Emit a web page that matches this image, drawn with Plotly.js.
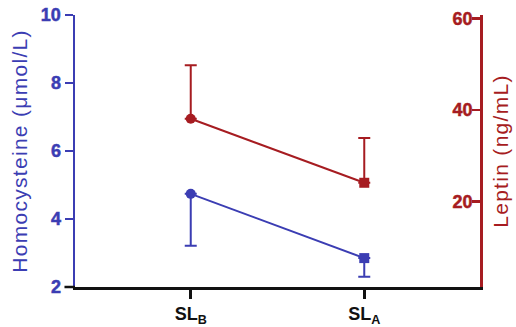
<!DOCTYPE html>
<html>
<head>
<meta charset="utf-8">
<script src="https://cdn.plot.ly/plotly-3.0.1.min.js"></script>
<style>
html, body { margin: 0; padding: 0; background: #fff; }
#chart { width: 516px; height: 327px; }
.ytitle, .y2title { letter-spacing: 1.3px; }
.ytick text, .y2tick text, .xtick text { font-weight: 700 !important; }
.ytick text { stroke: #3b3db3; stroke-width: 0.5px; }
.y2tick text { stroke: #a61c21; stroke-width: 0.5px; }
</style>
</head>
<body>
<div id="chart"></div>
<script>
// Data
const categories = ["SL<sub>B</sub>", "SL<sub>A</sub>"];
const homocysteine = [4.74, 2.85];          // µmol/L, left axis
const homocysteineErrLow = [1.53, 0.55];    // lower whisker only
const leptin = [38.1, 24.1];                // ng/mL, right axis
const leptinErrHigh = [11.7, 9.8];          // upper whisker only
const zeros = [0, 0];
const markerSymbols = ["circle", "square"];
const leftTicks = [2, 4, 6, 8, 10];
const rightTicks = [20, 40, 60];

const BLUE = "#3b3db3";
const RED = "#a61c21";
const FONT = "Liberation Sans, Arial, Helvetica, sans-serif";

const traces = [
  {
    x: categories, y: homocysteine, yaxis: "y", type: "scatter", mode: "lines+markers",
    line: {color: BLUE, width: 2},
    marker: {color: BLUE, size: 10, symbol: markerSymbols},
    error_y: {type: "data", symmetric: false, array: zeros, arrayminus: homocysteineErrLow,
              color: BLUE, thickness: 2, width: 6},
    showlegend: false, cliponaxis: false
  },
  {
    x: categories, y: leptin, yaxis: "y2", type: "scatter", mode: "lines+markers",
    line: {color: RED, width: 2},
    marker: {color: RED, size: 10, symbol: markerSymbols},
    error_y: {type: "data", symmetric: false, array: leptinErrHigh, arrayminus: zeros,
              color: RED, thickness: 2, width: 6},
    showlegend: false, cliponaxis: false
  }
];

const layout = {
  width: 516, height: 327,
  margin: {l: 75, r: 36, t: 15, b: 40},
  paper_bgcolor: "#fff", plot_bgcolor: "#fff",
  font: {family: FONT},
  xaxis: {
    type: "category", range: [-0.667, 1.667],
    showgrid: false, zeroline: false,
    showline: true, linecolor: "#111", linewidth: 2.5,
    ticks: "outside", ticklen: 9, tickwidth: 2.5, tickcolor: "#111",
    tickfont: {family: FONT, size: 18, color: "#111", weight: 700}
  },
  yaxis: {
    range: [2, 10], tickvals: leftTicks,
    showgrid: false, zeroline: false,
    showline: true, linecolor: BLUE, linewidth: 2.5,
    ticks: "outside", ticklen: 8, tickwidth: 2.5, tickcolor: BLUE,
    tickfont: {family: FONT, size: 18, color: BLUE, weight: 700},
    title: {text: "Homocysteine (μmol/L)", font: {family: FONT, size: 21, color: BLUE}, standoff: 8}
  },
  yaxis2: {
    overlaying: "y", side: "right",
    range: [1.3, 60.8], tickvals: rightTicks,
    showgrid: false, zeroline: false,
    showline: true, linecolor: RED, linewidth: 2.5,
    ticks: "inside", ticklen: 8, tickwidth: 2.5, tickcolor: RED,
    ticklabelposition: "inside", ticklabeloverflow: "allow",
    tickfont: {family: FONT, size: 18, color: RED, weight: 700},
    title: {text: "Leptin (ng/mL)", font: {family: FONT, size: 21, color: RED}, standoff: 22}
  },
  shapes: [
    {type: "line", xref: "paper", yref: "paper", x0: -0.026, x1: 0, y0: 0, y1: 0,
     line: {color: "#111", width: 2.5}}
  ]
};

Plotly.newPlot("chart", traces, layout, {displayModeBar: false, staticPlot: true});
</script>
</body>
</html>
